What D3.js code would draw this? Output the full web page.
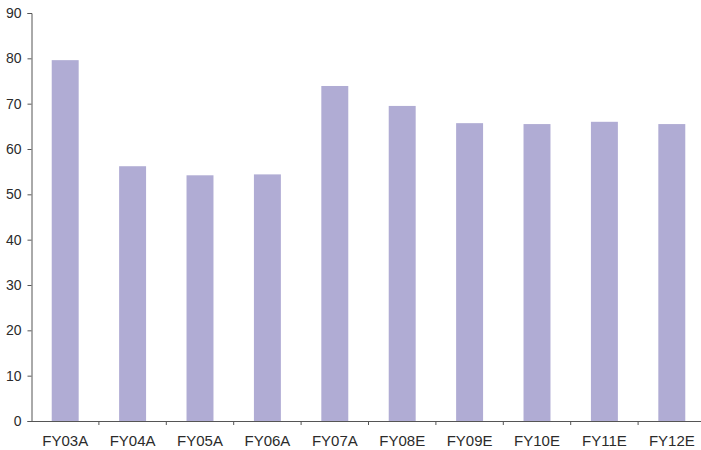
<!DOCTYPE html>
<html>
<head>
<meta charset="utf-8">
<script src="https://cdn.jsdelivr.net/npm/d3@7"></script>
<style>
  html, body { margin: 0; padding: 0; background: #fff; }
  svg { display: block; }
  .tick text { font-family: "Liberation Sans", Arial, sans-serif; fill: #2b2b2b; }
</style>
</head>
<body>
<svg id="chart" width="701" height="450"></svg>
<script>
// Fiscal years (A = actual, E = estimate)
const categories = ["FY03A", "FY04A", "FY05A", "FY06A", "FY07A", "FY08E", "FY09E", "FY10E", "FY11E", "FY12E"];
const values = [79.6, 56.2, 54.2, 54.4, 73.9, 69.5, 65.7, 65.5, 66.0, 65.5];
const yTicks = [0, 10, 20, 30, 40, 50, 60, 70, 80, 90];

const svg = d3.select("#chart");
const plotLeft = 31.5, plotRight = 705.5, plotTop = 13, plotBottom = 421;

const x = d3.scaleBand().domain(categories).range([plotLeft, plotRight]).paddingInner(0.6).paddingOuter(0.3);
const bandStep = (plotRight - plotLeft) / categories.length;
const y = d3.scaleLinear().domain([0, 90]).range([plotBottom, plotTop]);

// bars
svg.append("g").selectAll("rect").data(categories).join("rect")
  .attr("x", d => x(d))
  .attr("width", x.bandwidth())
  .attr("y", (d, i) => y(values[i]))
  .attr("height", (d, i) => y(0) - y(values[i]))
  .attr("fill", "#b0acd4");

// y axis
const yAxis = svg.append("g")
  .attr("transform", `translate(${plotLeft},0)`)
  .call(d3.axisLeft(y).tickValues(yTicks).tickSize(4).tickPadding(6));
yAxis.selectAll("text").style("font-size", "14px");

// x axis with ticks at category boundaries
const xAxis = svg.append("g")
  .attr("transform", `translate(0,${plotBottom})`)
  .call(d3.axisBottom(x).tickSize(0).tickPadding(14));
xAxis.selectAll("text").style("font-size", "15px");
xAxis.selectAll(".boundary").data(categories.slice(1)).join("line")
  .attr("class", "boundary")
  .attr("x1", (d, i) => plotLeft + (i + 1) * bandStep)
  .attr("x2", (d, i) => plotLeft + (i + 1) * bandStep)
  .attr("y1", 0).attr("y2", 4)
  .attr("stroke", "#555");

svg.selectAll(".domain").attr("stroke", "#555");
svg.selectAll(".tick line").attr("stroke", "#555");
</script>
</body>
</html>
